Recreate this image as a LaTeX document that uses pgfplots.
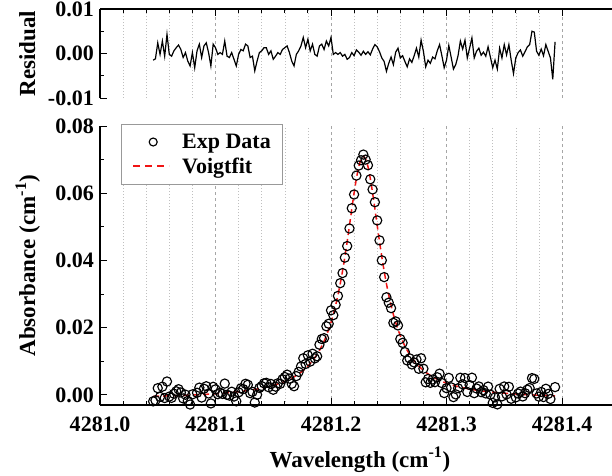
\documentclass[border=0pt]{standalone}
\usepackage{fontspec}
\setmainfont{Liberation Serif}
\usepackage{pgfplots}
\pgfplotsset{compat=1.18}
\usepackage{pgfplotstable}
\definecolor{fitred}{RGB}{240,20,20}
% x = wavenumber - 4281 (cm^-1), d = absorbance data, r = residual, f = Voigt fit
\pgfplotstableread{
x d r f
0.046 -0.00192 -0.0015 -0.00042
0.048 -0.00160 -0.0012 -0.00040
0.050 0.00201 0.0024 -0.00039
0.052 -0.00057 -0.0002 -0.00037
0.054 0.00245 0.0028 -0.00035
0.056 -0.00093 -0.0006 -0.00033
0.058 0.00399 0.0043 -0.00031
0.060 -0.00049 -0.0002 -0.00029
0.062 -0.00087 -0.0006 -0.00027
0.064 0.00036 0.0006 -0.00024
0.066 0.00108 0.0013 -0.00022
0.068 0.00170 0.0019 -0.00020
0.070 0.00073 0.0009 -0.00017
0.072 -0.00104 -0.0009 -0.00014
0.074 0.00008 0.0002 -0.00012
0.076 -0.00179 -0.0017 -0.00009
0.078 -0.00286 -0.0028 -0.00006
0.080 0.00017 0.0002 -0.00003
0.082 -0.00320 -0.0032 0.00000
0.084 0.00064 0.0006 0.00004
0.086 0.00217 0.0021 0.00007
0.088 -0.00079 -0.0009 0.00011
0.090 0.00184 0.0017 0.00014
0.092 0.00258 0.0024 0.00018
0.094 0.00042 0.0002 0.00022
0.096 -0.00253 -0.0028 0.00027
0.098 0.00241 0.0021 0.00031
0.100 0.00166 0.0013 0.00036
0.102 0.00021 -0.0002 0.00041
0.104 0.00066 0.0002 0.00046
0.106 0.00031 -0.0002 0.00051
0.108 0.00337 0.0028 0.00057
0.110 0.00002 -0.0006 0.00062
0.112 -0.00021 -0.0009 0.00069
0.114 0.00095 0.0002 0.00075
0.116 -0.00048 -0.0013 0.00082
0.118 -0.00191 -0.0028 0.00089
0.120 0.00077 -0.0002 0.00097
0.122 0.00195 0.0009 0.00105
0.124 0.00173 0.0006 0.00113
0.126 0.00332 0.0021 0.00122
0.128 0.00302 0.0017 0.00132
0.130 0.00052 -0.0009 0.00142
0.132 0.00092 -0.0006 0.00152
0.134 -0.00227 -0.0039 0.00163
0.136 0.00005 -0.0017 0.00175
0.138 0.00208 0.0002 0.00188
0.140 0.00262 0.0006 0.00202
0.142 0.00346 0.0013 0.00216
0.144 0.00361 0.0013 0.00231
0.146 0.00228 -0.0002 0.00248
0.148 0.00326 0.0006 0.00266
0.150 0.00154 -0.0013 0.00284
0.152 0.00245 -0.0006 0.00305
0.154 0.00347 0.0002 0.00327
0.156 0.00330 -0.0002 0.00350
0.158 0.00465 0.0009 0.00375
0.160 0.00533 0.0013 0.00403
0.162 0.00603 0.0017 0.00433
0.164 0.00485 0.0002 0.00465
0.166 0.00330 -0.0017 0.00500
0.168 0.00258 -0.0028 0.00538
0.170 0.00560 -0.0002 0.00580
0.172 0.00685 0.0006 0.00625
0.174 0.00845 0.0017 0.00675
0.176 0.01090 0.0036 0.00730
0.178 0.00921 0.0013 0.00791
0.180 0.01178 0.0032 0.00858
0.182 0.00992 0.0006 0.00932
0.184 0.01225 0.0021 0.01015
0.186 0.01087 -0.0002 0.01107
0.188 0.01149 -0.0006 0.01209
0.190 0.01494 0.0017 0.01324
0.192 0.01663 0.0021 0.01453
0.194 0.01688 0.0009 0.01598
0.196 0.02042 0.0028 0.01762
0.198 0.02117 0.0017 0.01947
0.200 0.02516 0.0036 0.02156
0.202 0.02373 -0.0002 0.02393
0.204 0.02682 0.0002 0.02662
0.206 0.02945 -0.0002 0.02965
0.208 0.03325 0.0002 0.03305
0.210 0.03625 -0.0006 0.03685
0.212 0.04084 -0.0002 0.04104
0.214 0.04429 -0.0013 0.04559
0.216 0.04951 -0.0009 0.05041
0.218 0.05554 0.0002 0.05534
0.220 0.05963 -0.0005 0.06013
0.222 0.06525 0.0008 0.06445
0.224 0.06824 0.0003 0.06794
0.226 0.06981 -0.0004 0.07021
0.228 0.07150 0.0005 0.07100
0.230 0.07001 -0.0002 0.07021
0.232 0.06834 0.0004 0.06794
0.234 0.06415 -0.0003 0.06445
0.236 0.06113 0.0010 0.06013
0.238 0.05734 0.0020 0.05534
0.240 0.05191 0.0015 0.05041
0.242 0.04599 0.0004 0.04559
0.244 0.04004 -0.0010 0.04104
0.246 0.03505 -0.0018 0.03685
0.248 0.02905 -0.0040 0.03305
0.250 0.02745 -0.0022 0.02965
0.252 0.02582 -0.0008 0.02662
0.254 0.02143 -0.0025 0.02393
0.256 0.02186 0.0003 0.02156
0.258 0.02067 0.0012 0.01947
0.260 0.01662 -0.0010 0.01762
0.262 0.01548 -0.0005 0.01598
0.264 0.01273 -0.0018 0.01453
0.266 0.01024 -0.0030 0.01324
0.268 0.01089 -0.0012 0.01209
0.270 0.00907 -0.0020 0.01107
0.272 0.00965 -0.0005 0.01015
0.274 0.01052 0.0012 0.00932
0.276 0.00778 -0.0008 0.00858
0.278 0.01091 0.0030 0.00791
0.280 0.00780 0.0005 0.00730
0.282 0.00375 -0.0030 0.00675
0.284 0.00475 -0.0015 0.00625
0.286 0.00360 -0.0022 0.00580
0.288 0.00458 -0.0008 0.00538
0.290 0.00380 -0.0012 0.00500
0.292 0.00525 0.0006 0.00465
0.294 0.00633 0.0020 0.00433
0.296 0.00353 -0.0005 0.00403
0.298 0.00055 -0.0032 0.00375
0.300 0.00200 -0.0015 0.00350
0.302 0.00507 0.0018 0.00327
0.304 0.00225 -0.0008 0.00305
0.306 -0.00066 -0.0035 0.00284
0.308 0.00016 -0.0025 0.00266
0.310 0.00198 -0.0005 0.00248
0.312 0.00511 0.0028 0.00231
0.314 0.00316 0.0010 0.00216
0.316 0.00502 0.0030 0.00202
0.318 0.00088 -0.0010 0.00188
0.320 0.00295 0.0012 0.00175
0.322 0.00513 0.0035 0.00163
0.324 0.00052 -0.0010 0.00152
0.326 0.00192 0.0005 0.00142
0.328 0.00252 0.0012 0.00132
0.330 0.00082 -0.0004 0.00122
0.332 0.00143 0.0003 0.00113
0.334 0.00045 -0.0006 0.00105
0.336 0.00247 0.0015 0.00097
0.338 0.00009 -0.0008 0.00089
0.340 -0.00238 -0.0032 0.00082
0.342 -0.00075 -0.0015 0.00075
0.344 -0.00281 -0.0035 0.00069
0.346 0.00182 0.0012 0.00062
0.348 -0.00043 -0.0010 0.00057
0.350 0.00251 0.0020 0.00051
0.352 0.00016 -0.0003 0.00046
0.354 0.00241 0.0020 0.00041
0.356 -0.00114 -0.0015 0.00036
0.358 -0.00419 -0.0045 0.00031
0.360 -0.00073 -0.0010 0.00027
0.362 0.00042 0.0002 0.00022
0.364 0.00098 0.0008 0.00018
0.366 -0.00046 -0.0006 0.00014
0.368 0.00051 0.0004 0.00011
0.370 0.00157 0.0015 0.00007
0.372 0.00204 0.0020 0.00004
0.374 0.00500 0.0050 0.00000
0.376 0.00477 0.0048 -0.00003
0.378 0.00044 0.0005 -0.00006
0.380 -0.00049 -0.0004 -0.00009
0.382 0.00088 0.0010 -0.00012
0.384 -0.00064 -0.0005 -0.00014
0.386 0.00183 0.0020 -0.00017
0.388 0.00030 0.0005 -0.00020
0.390 -0.00122 -0.0010 -0.00022
0.392 -0.00604 -0.0058 -0.00024
0.394 0.00233 0.0026 -0.00027
}\spec

\pgfplotsset{
  mystyle/.style={
    scale only axis, width=519.75pt, xmin=0, xmax=0.45,
    scaled ticks=false,
    xtick={0,0.1,0.2,0.3,0.4}, minor x tick num=4,
    tick align=inside, major tick length=7pt, minor tick length=4pt,
    every tick/.style={black, line width=1pt},
    axis line style={-, line width=1.2pt, black},
    xmajorgrids, xminorgrids,
    major grid style={gray!70, line width=0.6pt, dash pattern=on 3pt off 3pt},
    minor grid style={gray!50, line width=0.6pt, dash pattern=on 1pt off 2pt},
    ticklabel style={font=\fontsize{22}{26}\selectfont\bfseries},
    yticklabel style={xshift=-2.7pt},
    xticklabel style={yshift=-8pt},
    label style={font=\fontsize{23}{28}\selectfont\bfseries},
    ylabel style={at={(axis description cs:-0.125,0.5)}, anchor=base},
  },
  markleg/.style={legend image code/.code={%
    \path[draw=none] (-6pt,0pt) -- (44pt,0pt);
    \path[draw=black, line width=1pt] plot[mark=o, mark size=4pt] coordinates {(20pt,0pt)};}},
  lineleg/.style={legend image code/.code={%
    \path[draw=none] (-6pt,0pt) -- (44pt,0pt);
    \draw[color=fitred, draw=fitred, solid, line width=1.5pt, dash pattern=on 7pt off 5pt] (0pt,0pt) -- (36pt,0pt);}},
}

\begin{document}
\begin{tikzpicture}
\begin{axis}[axis x line=top, axis y line=left, mystyle,
  at={(0pt,307pt)}, anchor=south west, height=89pt,
  ymin=-0.01, ymax=0.01,
  ytick={-0.01,0,0.01}, yticklabels={-0.01,0.00,0.01}, minor y tick num=1,
  xticklabels={}, ylabel={Residual}]
\addplot[black, line width=1.2pt] table[x=x,y=r]{\spec};
\end{axis}
\begin{axis}[axis x line=bottom, axis y line=left, mystyle,
  at={(0pt,0pt)}, anchor=south west, height=279pt,
  ymin=-0.003, ymax=0.08,
  ytick={0,0.02,0.04,0.06,0.08}, yticklabels={0.00,0.02,0.04,0.06,0.08}, minor y tick num=1,
  xticklabels={4281.0,4281.1,4281.2,4281.3,4281.4},
  xlabel={Wavelength (cm\textsuperscript{-1})},
  ylabel={Absorbance (cm\textsuperscript{-1})},
  xlabel style={at={(axis description cs:0.5,-0.2222)}, anchor=base},
  legend cell align=left,
  legend style={name=leg, at={(axis description cs:0.0404,1.007)}, anchor=north west,
    draw=none, fill=white,
    font=\fontsize{22}{26}\selectfont\bfseries,
    inner xsep=6pt, inner ysep=6pt, row sep=0pt,
    nodes={font=\fontsize{22}{26}\selectfont\bfseries, inner xsep=5pt, inner ysep=3.8pt}}]
\addplot[only marks, mark=o, mark size=4.6pt, black, mark options={line width=1.15pt}, markleg]
  table[x=x,y=d]{\spec};
\addlegendentry{Exp Data}
\addplot[fitred, line width=1.5pt, dash pattern=on 6pt off 4pt, lineleg]
  table[x=x,y=f]{\spec};
\addlegendentry{Voigtfit}
\end{axis}
\draw[gray!80, line width=0.8pt] (leg.south west) rectangle (leg.north east);
\pgfresetboundingbox
\path[use as bounding box] (-100pt,-70pt) rectangle (512pt,405pt);
\end{tikzpicture}
\end{document}
